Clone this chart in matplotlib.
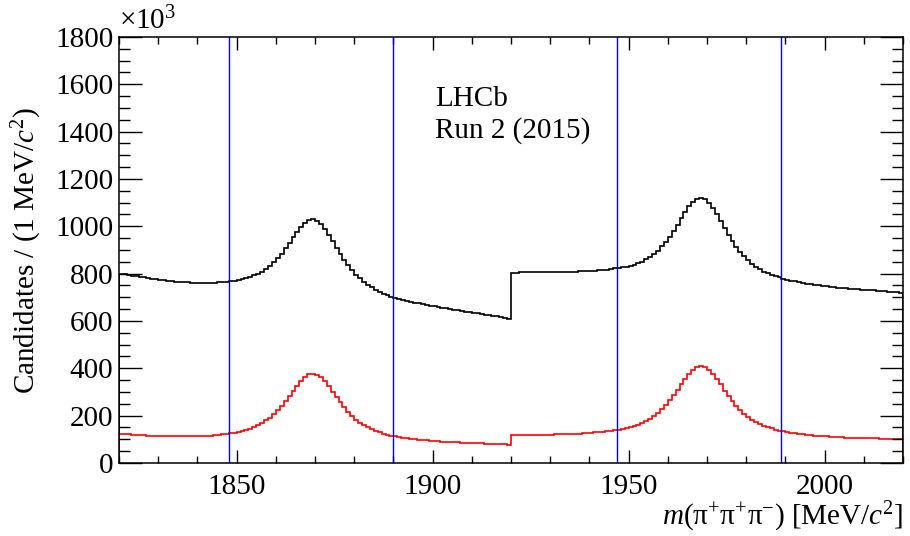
import numpy as np
import matplotlib
matplotlib.use("Agg")
import matplotlib.pyplot as plt
from matplotlib.ticker import MultipleLocator

plt.rcParams['font.family'] = ['Liberation Serif', 'DejaVu Serif']
plt.rcParams['mathtext.fontset'] = 'custom'
plt.rcParams['mathtext.rm'] = 'Liberation Serif'
plt.rcParams['mathtext.it'] = 'Liberation Serif:italic'

# binning: 1 MeV bins from 1820 to 2020
mass_lo = 1820
mass_hi = 2020

# all candidates (x 10^3)
all_cand = [
    800, 797, 794, 792, 789, 787, 784, 781, 779, 776,
    774, 772, 770, 768, 766, 765, 763, 763, 761, 761,
    761, 761, 761, 762, 762, 763, 764, 766, 768, 770,
    773, 776, 780, 786, 793, 800, 809, 821, 834, 848,
    866, 885, 908, 930, 955, 977, 998, 1016, 1026, 1029,
    1023, 1009, 989, 964, 938, 910, 884, 859, 835, 814,
    796, 780, 766, 752, 742, 732, 724, 716, 710, 703,
    698, 694, 689, 685, 681, 678, 674, 671, 668, 665,
    662, 659, 656, 653, 651, 648, 645, 642, 640, 637,
    635, 632, 630, 627, 625, 622, 619, 616, 613, 610,
    804, 804, 805, 805, 805, 806, 806, 806, 806, 807,
    807, 807, 807, 808, 808, 808, 809, 810, 810, 811,
    811, 813, 814, 816, 817, 820, 822, 824, 827, 830,
    833, 838, 844, 851, 860, 870, 883, 897, 915, 933,
    956, 980, 1006, 1034, 1060, 1084, 1103, 1116, 1120, 1114,
    1098, 1077, 1051, 1023, 993, 965, 939, 914, 893, 873,
    856, 841, 829, 818, 809, 801, 794, 789, 784, 778,
    774, 771, 767, 763, 760, 758, 755, 752, 750, 749,
    746, 744, 743, 741, 739, 738, 737, 735, 734, 733,
    732, 730, 729, 728, 727, 725, 724, 723, 721, 720,
]

# selected candidates (x 10^3)
sel_cand = [
    123, 122, 121, 120, 119, 118, 117, 116, 116, 115,
    114, 113, 113, 112, 112, 112, 112, 112, 112, 112,
    113, 113, 114, 116, 117, 119, 121, 123, 126, 128,
    131, 136, 140, 145, 153, 160, 169, 180, 191, 206,
    223, 241, 261, 283, 305, 327, 348, 363, 374, 378,
    373, 362, 345, 324, 302, 278, 256, 235, 216, 199,
    183, 171, 159, 150, 142, 134, 129, 123, 119, 116,
    112, 110, 107, 105, 102, 101, 98, 96, 96, 94,
    93, 92, 90, 90, 89, 88, 87, 86, 86, 85,
    84, 84, 83, 82, 82, 81, 80, 79, 79, 78,
    118, 118, 118, 119, 119, 119, 119, 120, 120, 120,
    120, 121, 121, 122, 122, 123, 124, 124, 125, 127,
    128, 129, 130, 133, 134, 136, 139, 141, 144, 148,
    152, 157, 162, 169, 177, 188, 198, 211, 227, 244,
    265, 286, 309, 333, 356, 378, 395, 407, 411, 407,
    394, 377, 355, 332, 306, 283, 262, 241, 223, 207,
    194, 183, 172, 163, 156, 151, 146, 141, 137, 134,
    131, 128, 125, 124, 121, 119, 117, 116, 114, 112,
    112, 110, 110, 109, 108, 107, 107, 106, 106, 105,
    105, 105, 104, 104, 103, 103, 102, 102, 101, 101,
]

# signal windows
window_lines = [1848, 1890, 1947, 1989]

edges = np.arange(mass_lo, mass_hi + 1)

fig = plt.figure(figsize=(9.1, 5.36), dpi=100)
ax = fig.add_axes([0.1308, 0.1362, 0.8615, 0.7948])

ax.stairs(all_cand, edges, baseline=0, color='black', lw=1.2)
ax.stairs(sel_cand, edges, baseline=0, color='red', lw=1.2)
for xv in window_lines:
    ax.axvline(xv, color='blue', lw=1.0)

ax.set_xlim(mass_lo, mass_hi)
ax.set_ylim(0, 1800)

ax.xaxis.set_major_locator(MultipleLocator(50))
ax.xaxis.set_minor_locator(MultipleLocator(10))
ax.yaxis.set_major_locator(MultipleLocator(200))
ax.yaxis.set_minor_locator(MultipleLocator(50))
ax.tick_params(which='both', direction='in', top=True, right=True, labelsize=21, width=1.0)
ax.tick_params(axis='x', which='major', length=9.5, pad=8)
ax.tick_params(axis='x', which='minor', length=5)
ax.tick_params(axis='y', which='major', length=16.5, pad=4)
ax.tick_params(axis='y', which='minor', length=8)
for s in ax.spines.values():
    s.set_linewidth(1.1)

ax.set_ylabel(r'Candidates / (1 MeV/$c^{2}$)', fontsize=21, labelpad=8)
ax.set_xlabel(r'$m$(π$^{+}$π$^{+}$π$^{-}$) [MeV/$c^{2}$]', fontsize=21, loc='right', labelpad=0)

fig.text(0.131, 0.935, '×10$^{3}$', fontsize=21, ha='left', va='bottom')

ax.text(0.403, 0.855, 'LHCb', transform=ax.transAxes, fontsize=21, ha='left', va='center')
ax.text(0.403, 0.78, 'Run 2 (2015)', transform=ax.transAxes, fontsize=21, ha='left', va='center')

fig.savefig('out.png', dpi=100)
